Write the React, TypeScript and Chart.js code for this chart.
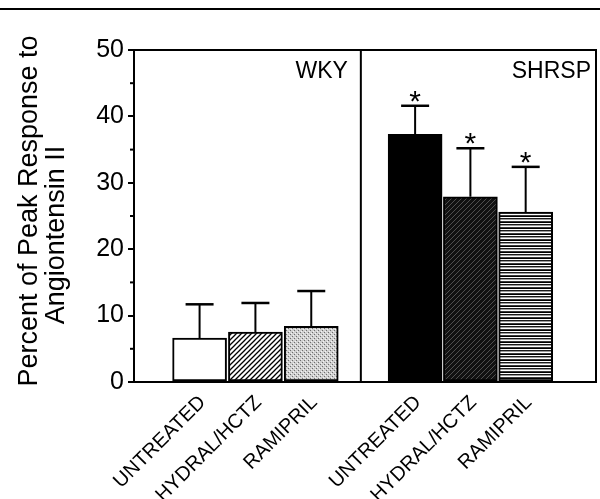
import React, { useEffect, useRef } from "react";
import { Chart, registerables } from "chart.js";

Chart.register(...registerables);

// ---- data ----
const treatments = ["UNTREATED", "HYDRAL/HCTZ", "RAMIPRIL", "UNTREATED", "HYDRAL/HCTZ", "RAMIPRIL"];
const groups = ["WKY", "SHRSP"];
const barPositions = [0, 1, 2, 3.86, 4.85, 5.84];
const meanValues = [6.6, 7.5, 8.4, 37.3, 27.9, 25.6];
const errorValues = [5.1, 4.4, 5.3, 4.3, 7.3, 6.8];
const significance = ["", "", "", "*", "*", "*"];
const fillKinds = ["white", "hatch", "stipple", "black", "darkHatch", "stripes"];
const yTicks = [0, 10, 20, 30, 40, 50];
const yMinorTicks = [5, 15, 25, 35, 45];
const yTitle = ["Percent of Peak Response to", "Angiontensin II"];
const groupBoundary = 2.888;
const xRange = [-0.485, 6.41];
const yRange = [0, 50];

const FONT = "'Liberation Sans', Arial, Helvetica, sans-serif";

function makeFill(kind: string): any {
  if (kind === "white") return "#ffffff";
  if (kind === "black") return "#000000";
  const c = document.createElement("canvas");
  const ctx = c.getContext("2d")!;
  if (kind === "hatch" || kind === "darkHatch") {
    c.width = 5;
    c.height = 5;
    ctx.fillStyle = kind === "hatch" ? "#ffffff" : "#111111";
    ctx.fillRect(0, 0, 5, 5);
    ctx.strokeStyle = kind === "hatch" ? "#000000" : "#6a6a6a";
    ctx.lineWidth = kind === "hatch" ? 1.3 : 0.7;
    ctx.beginPath();
    ctx.moveTo(-1, 6);
    ctx.lineTo(6, -1);
    ctx.moveTo(-1, 1);
    ctx.lineTo(1, -1);
    ctx.moveTo(4, 6);
    ctx.lineTo(6, 4);
    ctx.stroke();
  } else if (kind === "stipple") {
    c.width = 4;
    c.height = 4;
    ctx.fillStyle = "#d0d0d0";
    ctx.fillRect(0, 0, 4, 4);
    ctx.fillStyle = "#6e6e6e";
    ctx.fillRect(0, 0, 1, 1);
    ctx.fillRect(2, 2, 1, 1);
    ctx.fillStyle = "#f4f4f4";
    ctx.fillRect(1, 3, 1, 1);
    ctx.fillRect(3, 1, 1, 1);
  } else if (kind === "stripes") {
    c.width = 4;
    c.height = 6;
    const rows = ["#000000", "#ffffff", "#1a1a1a", "#9a9a9a", "#ffffff", "#3a3a3a"];
    rows.forEach((col, i) => {
      ctx.fillStyle = col;
      ctx.fillRect(0, i, 4, 1);
    });
  }
  return ctx.createPattern(c, "repeat");
}

const decorPlugin = {
  id: "decor",
  afterDatasetsDraw(chart: any) {
    const { ctx, chartArea } = chart;
    const xs = chart.scales.x;
    const ys = chart.scales.y;
    ctx.save();
    ctx.strokeStyle = "#000";
    ctx.fillStyle = "#000";

    // figure top rule
    ctx.lineWidth = 2;
    ctx.beginPath();
    ctx.moveTo(0, 9);
    ctx.lineTo(chart.width, 9);
    ctx.stroke();

    // frame
    ctx.lineWidth = 2;
    ctx.strokeRect(chartArea.left, chartArea.top, chartArea.right - chartArea.left, chartArea.bottom - chartArea.top);

    // group divider
    const dx = xs.getPixelForValue(groupBoundary);
    ctx.beginPath();
    ctx.moveTo(dx, chartArea.top);
    ctx.lineTo(dx, chartArea.bottom);
    ctx.stroke();

    // minor y ticks
    ctx.lineWidth = 2;
    yMinorTicks.forEach((v) => {
      const py = ys.getPixelForValue(v);
      ctx.beginPath();
      ctx.moveTo(chartArea.left - 4, py);
      ctx.lineTo(chartArea.left, py);
      ctx.stroke();
    });

    // error bars and stars
    barPositions.forEach((pos, i) => {
      const px = xs.getPixelForValue(pos);
      const yTop = ys.getPixelForValue(meanValues[i]);
      const yErr = ys.getPixelForValue(meanValues[i] + errorValues[i]);
      ctx.lineWidth = 2;
      ctx.beginPath();
      ctx.moveTo(px, yTop);
      ctx.lineTo(px, yErr);
      ctx.stroke();
      ctx.lineWidth = 2.5;
      ctx.beginPath();
      ctx.moveTo(px - 14, yErr);
      ctx.lineTo(px + 14, yErr);
      ctx.stroke();
      if (significance[i]) {
        ctx.font = `30px ${FONT}`;
        ctx.textAlign = "center";
        ctx.textBaseline = "alphabetic";
        ctx.fillText(significance[i], px, yErr + 5);
      }
    });

    // group labels
    ctx.font = `23px ${FONT}`;
    ctx.textAlign = "right";
    ctx.textBaseline = "alphabetic";
    ctx.fillText(groups[0], dx - 13, chartArea.top + 28);
    ctx.fillText(groups[1], chartArea.right - 5, chartArea.top + 28);

    // y title
    ctx.font = `27px ${FONT}`;
    ctx.textAlign = "center";
    ctx.textBaseline = "alphabetic";
    const titleX = [37, 64];
    const titleY = [211, 235];
    yTitle.forEach((line, i) => {
      ctx.save();
      ctx.translate(titleX[i], titleY[i]);
      ctx.rotate(-Math.PI / 2);
      ctx.fillText(line, 0, 0);
      ctx.restore();
    });

    ctx.restore();
  },
};

export default function App() {
  const canvasRef = useRef<HTMLCanvasElement | null>(null);

  useEffect(() => {
    const canvas = canvasRef.current;
    if (!canvas) return;
    const fills = fillKinds.map(makeFill);
    const chart = new Chart(canvas, {
      type: "bar",
      data: {
        datasets: [
          {
            data: barPositions.map((x, i) => ({ x, y: meanValues[i] })),
            backgroundColor: fills,
            borderColor: "#000000",
            borderWidth: 2,
            borderSkipped: false,
            barThickness: 54,
          } as any,
        ],
      },
      options: {
        animation: false,
        responsive: true,
        maintainAspectRatio: false,
        layout: { padding: { top: 50, right: 4, left: 0, bottom: 0 } },
        plugins: {
          legend: { display: false },
          tooltip: { enabled: false },
        },
        scales: {
          x: {
            type: "linear",
            min: xRange[0],
            max: xRange[1],
            grid: { display: false, drawTicks: false },
            border: { display: false },
            afterBuildTicks: (scale: any) => {
              scale.ticks = barPositions.map((v) => ({ value: v }));
            },
            afterFit: (scale: any) => {
              scale.height = 117;
            },
            ticks: {
              autoSkip: false,
              minRotation: 45,
              maxRotation: 45,
              padding: 9,
              labelOffset: 3,
              color: "#000",
              font: { family: FONT, size: 20 },
              callback: (_v: any, index: number) => treatments[index],
            },
          },
          y: {
            min: yRange[0],
            max: yRange[1],
            grid: {
              display: true,
              drawOnChartArea: false,
              drawTicks: true,
              tickLength: 6,
              color: "#000",
              lineWidth: 2,
            },
            border: { display: false },
            afterBuildTicks: (scale: any) => {
              scale.ticks = yTicks.map((v) => ({ value: v }));
            },
            afterFit: (scale: any) => {
              scale.width = 134;
            },
            ticks: {
              padding: 4,
              color: "#000",
              font: { family: FONT, size: 25 },
            },
          },
        },
      } as any,
      plugins: [decorPlugin],
    });
    return () => chart.destroy();
  }, []);

  return (
    <div style={{ position: "absolute", left: 0, top: 0, width: 600, height: 499, background: "#fff" }}>
      <canvas ref={canvasRef} />
    </div>
  );
}
